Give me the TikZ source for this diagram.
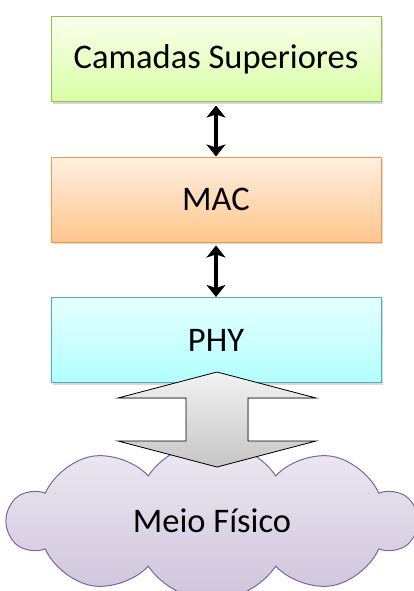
\documentclass[tikz,border=0pt]{standalone}
\usepackage{fontspec}
\setmainfont{Carlito}
\usetikzlibrary{shapes.symbols,shadows,arrows.meta}

\definecolor{camadasborda}{HTML}{9BBB59}
\definecolor{macborda}{HTML}{F79646}
\definecolor{phyborda}{HTML}{4BACC6}
\definecolor{meioborda}{HTML}{8064A2}

\tikzset{
  camada/.style={draw, line width=1pt, minimum width=330, minimum height=85,
    font=\fontsize{34.5}{40}\selectfont,
    drop shadow={shadow xshift=1.5pt, shadow yshift=-2pt, opacity=0.3}},
  liga/.style={line width=3.5pt, {Stealth[length=12pt,width=19pt,inset=3pt]}-{Stealth[length=12pt,width=19pt,inset=3pt]}}
}

\begin{document}
\begin{tikzpicture}[x=1pt, y=-1pt]
\useasboundingbox (0, 0) rectangle (413, 591);

\node[camada, draw=camadasborda, top color=green!5!lime!8, bottom color=green!25!lime!35] (sup) at (216, 59.5) {Camadas Superiores};
\node[camada, draw=macborda, top color=orange!12, bottom color=orange!45] (mac) at (216, 199.5) {MAC};
\node[camada, draw=phyborda, top color=cyan!10, bottom color=cyan!30] (phy) at (216, 340) {PHY};

\draw[liga] ([yshift=-3pt]sup.south) -- (mac.north);
\draw[liga] ([yshift=-3pt]mac.south) -- (phy.north);

\node[cloud, cloud puffs=10, cloud puff arc=115, aspect=2.5, draw=meioborda, line width=1pt,
  minimum width=408, minimum height=160, top color=meioborda!14, bottom color=meioborda!38,
  font=\fontsize{34.5}{40}\selectfont] (meio) at (212, 521) {Meio Físico};

% seta larga entre PHY e o meio
\filldraw[draw=black, line width=0.8pt, top color=gray!10, bottom color=gray!45]
  (217, 372) -- (316, 398) -- (248, 398) -- (248, 441) -- (316, 441) -- (217, 467)
  -- (118, 441) -- (186, 441) -- (186, 398) -- (118, 398) -- cycle;
\end{tikzpicture}
\end{document}
